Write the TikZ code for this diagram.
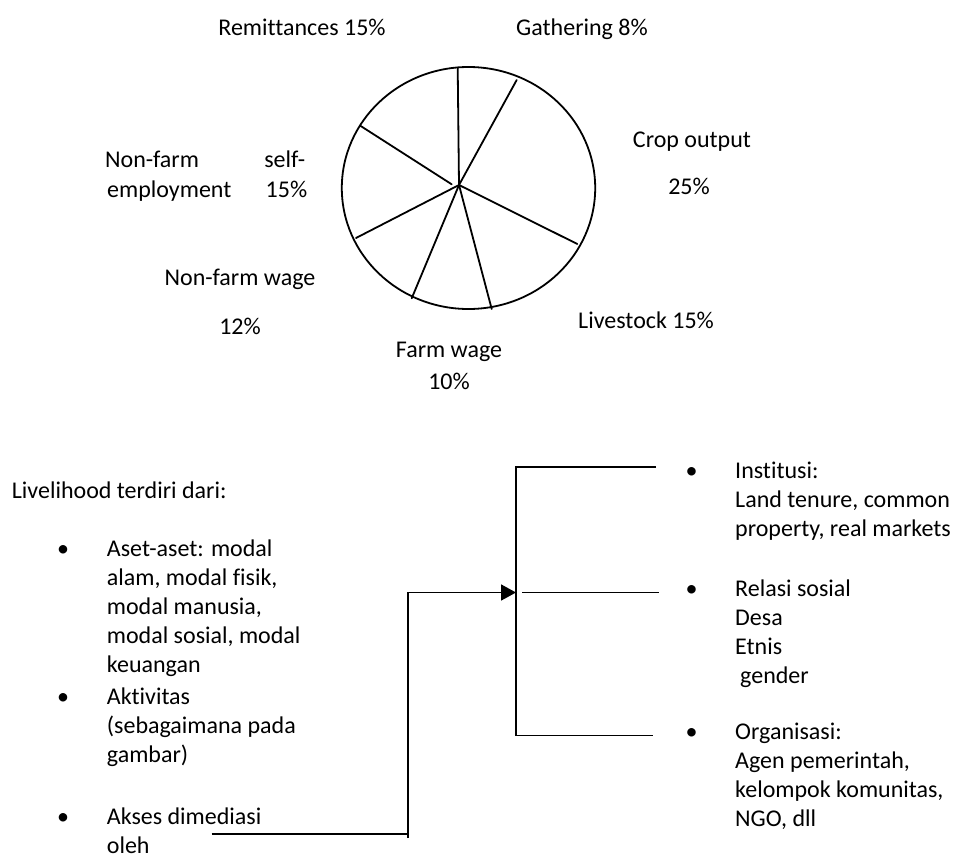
\documentclass[tikz,border=0pt]{standalone}
\usepackage{fontspec}
\setmainfont{Carlito}[Ligatures=NoCommon]
\usetikzlibrary{arrows.meta}
\begin{document}
\begin{tikzpicture}[x=1pt,y=-1pt,
  lbl/.style={font=\fontsize{24}{29}\selectfont, inner sep=0pt, anchor=base west, align=left},
  clbl/.style={lbl, anchor=base, align=center},
  blbl/.style={lbl},
  bul/.style={lbl, anchor=base},
  ln/.style={line width=1.8pt, line cap=round},
  cn/.style={line width=1.7pt}]
\useasboundingbox (0,0) rectangle (958,854);
% pie
\coordinate (pc) at (468.5,188);
\coordinate (o) at (459,185);
\coordinate (o2) at (451.7,184.3);
\coordinate (pa) at (457.7,67.5);
\coordinate (pb) at (516.7,80);
\coordinate (pcc) at (577.3,244);
\coordinate (pd) at (491.7,309);
\coordinate (pe) at (411.7,298.3);
\coordinate (pf) at (356,238);
\coordinate (pg) at (360.7,126);
\draw[ln] (pc) ellipse [x radius=126.7, y radius=121];
\draw[ln] (o) -- (pa);
\draw[ln] (o) -- (pb);
\draw[ln] (o) -- (pcc);
\draw[ln] (o) -- (pd);
\draw[ln] (o) -- (pe);
\draw[ln] (o) -- (pf);
\draw[ln] (o2) -- (pg);
% pie labels
\node[clbl] (rem) at (302,35) {Remittances 15\%};
\node[clbl] (gat) at (582,35) {Gathering 8\%};
\node[clbl] (crop) at (692,147) {Crop output};
\node[clbl] (crop2) at (689,194) {25\%};
\node[lbl] (nfs) at (105,167) {\hbox to 200pt{Non-farm\hfill self-}};
\node[lbl] (nfs2) at (107,197) {\hbox to 200pt{employment\hfill 15\%}};
\node[clbl] (nfw) at (240,285) {Non-farm wage};
\node[clbl] (nfw2) at (240,334) {12\%};
\node[lbl] (lst) at (578,328) {Livestock 15\%};
\node[clbl] (fw) at (449,357) {Farm wage};
\node[clbl] (fw2) at (449,389) {10\%};
% left text (anchor at baseline of last line)
\node[blbl] (liv) at (11.7,498) {Livelihood terdiri dari:};
\node[bul] (b1) at (63,556) {•};
\node[blbl] (aset) at (106.7,672) {Aset-aset: modal\\alam, modal fisik,\\modal manusia,\\modal sosial, modal\\keuangan};
\node[bul] (b2) at (63,704) {•};
\node[blbl] (akt) at (106.7,762) {Aktivitas\\(sebagaimana pada\\gambar)};
\node[bul] (b3) at (63,824) {•};
\node[blbl] (aks) at (106.7,853) {Akses dimediasi\\oleh};
% right text
\node[bul] (b4) at (691.7,478) {•};
\node[blbl] (inst) at (735,536) {Institusi:\\Land tenure, common\\property, real markets};
\node[bul] (b5) at (691.7,596) {•};
\node[blbl] (rel) at (735,683) {Relasi sosial\\Desa\\Etnis\\\hspace*{5pt}gender};
\node[bul] (b6) at (691.7,739) {•};
\node[blbl] (org) at (735,826) {Organisasi:\\Agen pemerintah,\\kelompok komunitas,\\NGO, dll};
% connectors
\coordinate (s0) at (211.7,834);
\coordinate (s1) at (408.3,834);
\coordinate (s1b) at (408.3,838);
\coordinate (s2) at (408.3,592.5);
\coordinate (tip) at (516,592.5);
\coordinate (vt) at (516,467);
\coordinate (vb) at (516,735.5);
\coordinate (h1) at (656,467);
\coordinate (m0) at (522,592.5);
\coordinate (h2) at (659,592.5);
\coordinate (h3) at (653,735.5);
\draw[cn] (s0) -- (s1);
\draw[cn] (s1b) -- (s2) -- (tip);
\draw[cn, -{Triangle[length=15pt,width=16pt]}] (s2) -- (tip);
\draw[cn] (h1) -- (vt) -- (vb) -- (h3);
\draw[cn] (m0) -- (h2);
\end{tikzpicture}
\end{document}
